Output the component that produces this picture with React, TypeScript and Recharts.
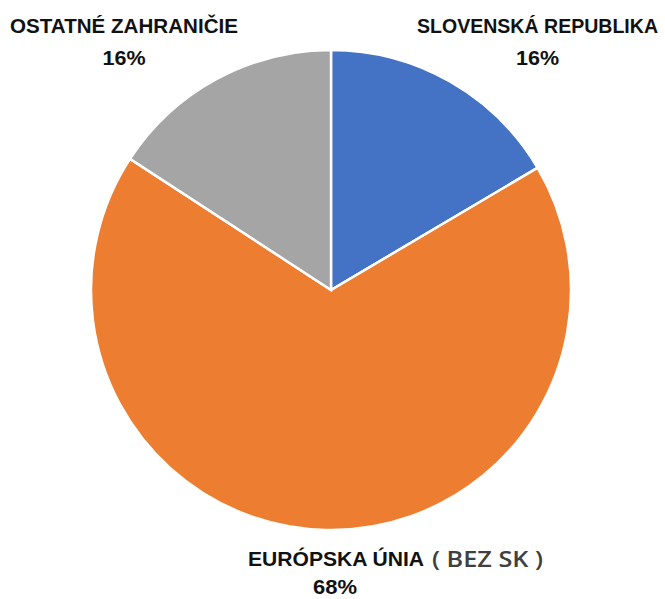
import React from "react";
import { PieChart, Pie, Cell } from "recharts";

const categories = ["SLOVENSKÁ REPUBLIKA", "EURÓPSKA ÚNIA", "OSTATNÉ ZAHRANIČIE"];
const values = [16.5, 67.7, 15.8];
const percentLabels = ["16%", "68%", "16%"];
const colors = ["#4472C4", "#ED7D31", "#A5A5A5"];

const data = categories.map((name, i) => ({ name, value: values[i] }));

const CX = 331;
const CY = 290;
const R = 240;

// label anchor offsets relative to pie centre
const labelPos = [
  { x: 206.5, y: -264, w: 241 },
  { x: 4, y: 268.5, w: 176 },
  { x: -207, y: -264, w: 228 },
];

const txt: React.CSSProperties = {
  fontFamily: "'Liberation Sans', Arial, sans-serif",
  fontWeight: 700,
  fontSize: 19.5,
  fill: "#111",
};

function renderLabel(props: any) {
  const { index, cx, cy } = props;
  const p = labelPos[index];
  const x = cx + p.x;
  const y = cy + p.y;
  if (index === 1) {
    const leftX = cx - 83;
    return (
      <g>
        <text x={leftX} y={y} textAnchor="start" dominantBaseline="central" style={txt} textLength={p.w} lengthAdjust="spacingAndGlyphs">
          {categories[index]}
        </text>
        <text
          x={leftX + 184}
          y={y}
          textAnchor="start"
          dominantBaseline="central"
          style={{ fontFamily: "'Open Sans', sans-serif", fontWeight: 600, fontSize: 21, fill: "#404040" }}
          textLength={111}
          lengthAdjust="spacingAndGlyphs"
        >
          ( BEZ SK )
        </text>
        <text x={cx + 4} y={y + 28.5} textAnchor="middle" dominantBaseline="central" style={txt} textLength={44} lengthAdjust="spacingAndGlyphs">
          {percentLabels[index]}
        </text>
      </g>
    );
  }
  return (
    <g>
      <text x={x} y={y} textAnchor="middle" dominantBaseline="central" style={txt} textLength={p.w} lengthAdjust="spacingAndGlyphs">
        {categories[index]}
      </text>
      <text x={x} y={y + 31.5} textAnchor="middle" dominantBaseline="central" style={txt} textLength={43} lengthAdjust="spacingAndGlyphs">
        {percentLabels[index]}
      </text>
    </g>
  );
}

export default function App() {
  return (
    <div style={{ position: "absolute", left: 0, top: 0, width: 665, height: 599, background: "#fff" }}>
      <PieChart width={665} height={599} margin={{ top: 0, right: 0, bottom: 0, left: 0 }}>
        <Pie
          data={data}
          dataKey="value"
          nameKey="name"
          cx={CX}
          cy={CY}
          outerRadius={R}
          startAngle={90}
          endAngle={-270}
          stroke="#fff"
          strokeWidth={2.5}
          label={renderLabel}
          labelLine={false}
          isAnimationActive={false}
        >
          {data.map((d, i) => (
            <Cell key={d.name} fill={colors[i]} />
          ))}
        </Pie>
      </PieChart>
    </div>
  );
}
